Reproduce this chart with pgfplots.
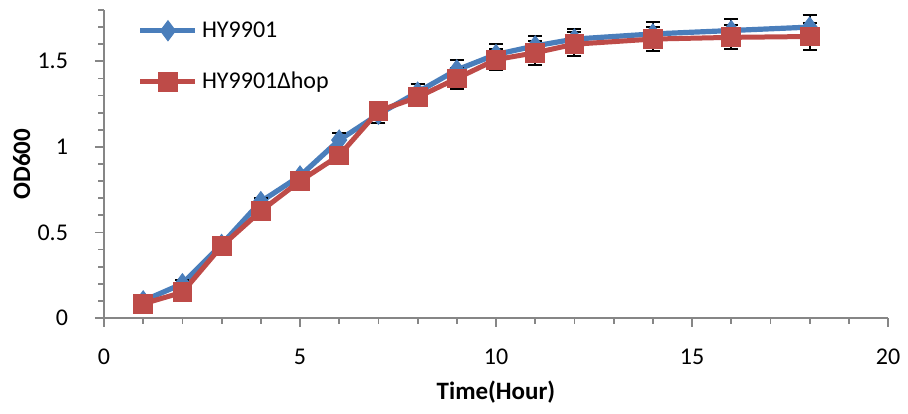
\documentclass[border=0pt]{standalone}
\usepackage{pgfplots}
\pgfplotsset{compat=1.18}
\usepackage{pgfplotstable}
\usepackage{fontspec}
\setmainfont{Carlito}
\definecolor{cblue}{HTML}{4A7EBB}
\definecolor{cred}{HTML}{BE4B48}
\definecolor{axgray}{HTML}{868686}

\pgfplotstableread{
x y e
1 0.10 0.01
2 0.20 0.02
3 0.43 0.02
4 0.68 0.02
5 0.83 0.02
6 1.04 0.04
7 1.19 0.05
8 1.32 0.05
9 1.45 0.06
10 1.54 0.06
11 1.59 0.06
12 1.63 0.06
14 1.66 0.07
16 1.68 0.07
18 1.70 0.07
}\blue

\pgfplotstableread{
x y e
1 0.083 0.01
2 0.15 0.02
3 0.42 0.02
4 0.625 0.02
5 0.80 0.02
6 0.95 0.03
7 1.21 0.04
8 1.29 0.05
9 1.40 0.06
10 1.51 0.06
11 1.55 0.07
12 1.60 0.07
14 1.63 0.07
16 1.64 0.07
18 1.645 0.08
}\red

\begin{document}
\begin{tikzpicture}
\begin{axis}[
  scale only axis, width=392pt, height=154pt,
  xmin=0, xmax=20, ymin=0, ymax=1.8,
  axis x line*=bottom, axis y line*=left,
  axis line style={axgray, line width=0.9pt},
  xtick={0,5,...,20}, ytick={0,0.5,1,1.5},
  minor xtick={0,1,...,20},
  minor ytick={0,0.1,...,1.85},
  tick align=outside,
  major tick length=4.5pt, minor tick length=2.8pt,
  every tick/.style={axgray, line width=0.9pt},
  yticklabel style={/pgf/number format/fixed, /pgf/number format/assume math mode=true, xshift=-10pt},
  xticklabel style={/pgf/number format/assume math mode=true, yshift=-7.5pt},
  tick label style={font=\fontsize{12}{14}\selectfont, black},
  xlabel={\bfseries Time(Hour)}, ylabel={\bfseries OD600},
  label style={font=\fontsize{12.5}{14}\selectfont},
  xlabel style={at={(axis description cs:0.5,-0.24)}, anchor=center},
  ylabel style={at={(axis description cs:-0.105,0.5)}, anchor=center},
  legend style={at={(0.035,0.99)}, anchor=north west, draw=none, fill=none,
     font=\fontsize{12}{14}\selectfont, row sep=12pt},
  legend cell align=left,
  legend image code/.code={\draw[#1,mark repeat=2,mark phase=2] plot coordinates {(0pt,0pt)(13.75pt,0pt)(27.5pt,0pt)};},
  error bars/y dir=both, error bars/y explicit,
  error bars/error bar style={black, line width=1pt},
  error bars/error mark options={black, rotate=90, mark size=3.5pt, line width=1pt},
]
\addplot[cblue, line width=2.6pt, mark=diamond*, mark size=5pt, mark options={fill=cblue, draw=cblue, line width=0.5pt}]
  table[x=x, y=y, y error=e] {\blue};
\addlegendentry{HY9901}
\addplot[cred, line width=2.5pt, mark=square*, mark size=4.7pt, mark options={fill=cred, draw=cred, line width=0.5pt}]
  table[x=x, y=y, y error=e] {\red};
\addlegendentry{HY9901Δhop}
\end{axis}
\path ([shift={(-52pt,-48pt)}]current axis.south west) rectangle ([shift={(10pt,5pt)}]current axis.north east);
\end{tikzpicture}
\end{document}
